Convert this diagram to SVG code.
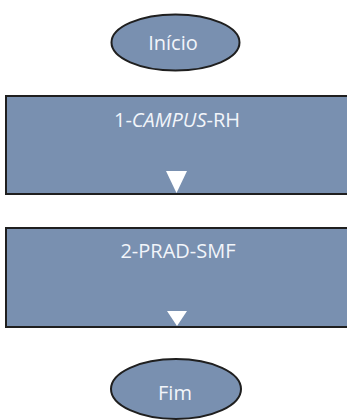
<svg xmlns="http://www.w3.org/2000/svg" width="347" height="420" viewBox="0 0 347 420">
  <defs>
    <style>
      .shape { fill: #7990b0; stroke: #1f1f1f; stroke-width: 2; }
      .label { fill: #f2f5fa; font-family: "Open Sans", "Liberation Sans", sans-serif; font-size: 20px; text-anchor: middle; dominant-baseline: central; }
      .arrow { fill: #ffffff; }
    </style>
  </defs>
  <rect width="347" height="420" fill="#ffffff"/>

  <g id="inicio">
    <ellipse class="shape" cx="175.5" cy="42.5" rx="64" ry="28"/>
    <text class="label" x="173" y="42">Início</text>
  </g>

  <g id="campus-rh">
    <rect class="shape" x="6" y="96" width="345" height="98"/>
    <text class="label" x="177" y="119">1-<tspan font-style="italic">CAMPUS</tspan>-RH</text>
  </g>

  <g id="prad-smf">
    <rect class="shape" x="6" y="228" width="345" height="99"/>
    <text class="label" x="178" y="250">2-PRAD-SMF</text>
  </g>

  <g id="fim">
    <ellipse class="shape" cx="176" cy="389" rx="65" ry="30"/>
    <text class="label" x="175" y="392">Fim</text>
  </g>

  <g id="connectors">
    <polygon class="arrow" points="166,171 187,171 176.5,193"/>
    <polygon class="arrow" points="167,311 187,311 177,326"/>
  </g>
</svg>
